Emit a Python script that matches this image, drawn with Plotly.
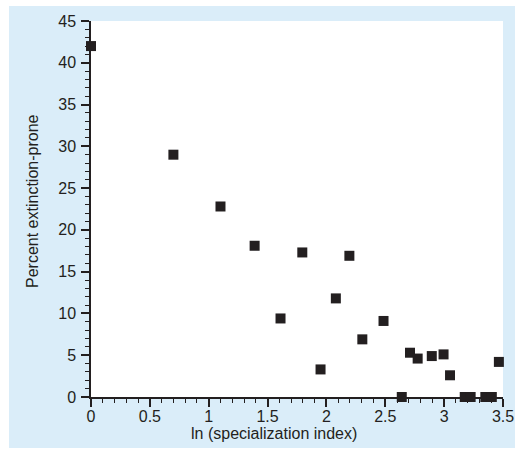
import plotly.graph_objects as go

ln_spec = [0.0, 0.70, 1.10, 1.39, 1.61, 1.795, 1.95, 2.08, 2.195, 2.305,
           2.485, 2.64, 2.71, 2.775, 2.895, 2.995, 3.05, 3.175, 3.225,
           3.35, 3.405, 3.465]
pct_extinct = [42.0, 29.0, 22.8, 18.1, 9.4, 17.3, 3.3, 11.8, 16.9, 6.9,
               9.1, 0.0, 5.3, 4.6, 4.9, 5.1, 2.6, 0.0, 0.0,
               0.0, 0.0, 4.2]

x_ticks = [0, 0.5, 1, 1.5, 2, 2.5, 3, 3.5]
x_ticklabels = ["0", "0.5", "1", "1.5", "2", "2.5", "3", "3.5"]
y_ticks = [0, 5, 10, 15, 20, 25, 30, 35, 40, 45]
y_ticklabels = [str(v) for v in y_ticks]
x_title = "ln (specialization index)"
y_title = "Percent extinction-prone"

INK = "#231f20"
BLUE = "#daedf9"
FONT = "Liberation Sans, Arial, sans-serif"

fig = go.Figure()
fig.add_trace(go.Scatter(
    x=ln_spec, y=pct_extinct, mode="markers",
    marker=dict(symbol="square", size=10, color=INK, line=dict(width=0)),
    cliponaxis=False, showlegend=False,
))

fig.update_layout(
    width=524, height=449,
    margin=dict(l=91, r=21, t=21, b=52),
    paper_bgcolor="white",
    plot_bgcolor="white",
    font=dict(family=FONT, size=16, color=INK),
    shapes=[
        dict(type="rect", xref="paper", yref="paper",
             x0=-82/412, x1=424/412, y0=-51/376, y1=(376+15)/376,
             fillcolor=BLUE, line=dict(width=0), layer="below"),
        dict(type="rect", xref="x domain", yref="y domain",
             x0=0, x1=1, y0=0, y1=1,
             fillcolor="white", line=dict(width=0), layer="below"),
    ],
    annotations=[
        dict(text=x_title, xref="paper", yref="paper",
             x=(274 - 91) / 412, y=(397 - 433) / 376,
             xanchor="center", yanchor="middle", showarrow=False,
             font=dict(size=16, color=INK)),
        dict(text=y_title, xref="paper", yref="paper",
             x=(32 - 91) / 412, y=(397 - 201) / 376, textangle=-90,
             xanchor="center", yanchor="middle", showarrow=False,
             font=dict(size=16, color=INK)),
    ],
)

fig.update_xaxes(
    range=[0, 3.5], tickmode="array", tickvals=x_ticks, ticktext=x_ticklabels,
    ticks="outside", ticklen=8, tickwidth=1.5, tickcolor=INK,
    showline=True, linecolor=INK, linewidth=1.5, showgrid=False, zeroline=False,
    minor=dict(dtick=0.1, ticks="outside", ticklen=4, tickwidth=1.2, tickcolor=INK, showgrid=False),
    tickfont=dict(size=16, color=INK), automargin=False, ticklabelstandoff=-4,
)
fig.update_yaxes(
    range=[0, 45], tickmode="array", tickvals=y_ticks, ticktext=y_ticklabels,
    ticks="outside", ticklen=8, tickwidth=1.5, tickcolor=INK,
    showline=True, linecolor=INK, linewidth=1.5, showgrid=False, zeroline=False,
    minor=dict(dtick=1, ticks="outside", ticklen=4, tickwidth=1.2, tickcolor=INK, showgrid=False),
    tickfont=dict(size=16, color=INK), automargin=False, ticklabelstandoff=2,
)

fig.write_html("out.html", config={"displayModeBar": False},
               post_script="document.body.style.margin='0';document.body.style.padding='0';document.body.style.overflow='hidden';")
